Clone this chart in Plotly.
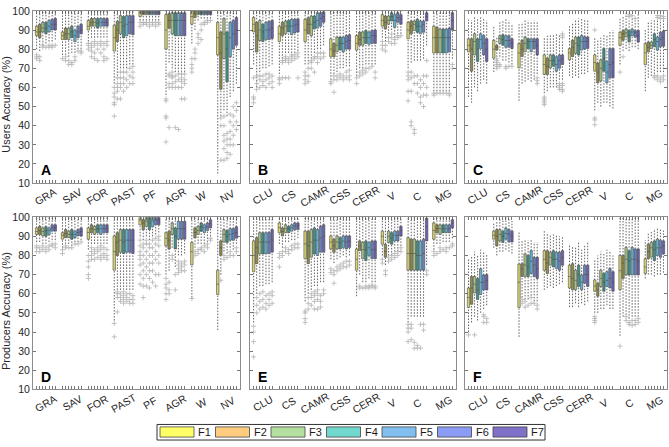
import plotly.graph_objects as go

SERIES = ['F1', 'F2', 'F3', 'F4', 'F5', 'F6', 'F7']
CATS_LC = ['GRA', 'SAV', 'FOR', 'PAST', 'PF', 'AGR', 'W', 'NV']
CATS_VEG = ['CLU', 'CS', 'CAMR', 'CSS', 'CERR', 'V', 'C', 'MG']
PANEL_LETTERS = ['A', 'B', 'C', 'D', 'E', 'F']
Y_TITLES = ['Users Accuracy (%)', 'Producers Accuracy (%)']

# ---------------- Panel A (Users accuracy, land cover) ----------------
A_lo = [[80, 79, 82, 83, 84, 84, 85], [77, 77, 76, 78, 78, 80, 80], [84, 86, 86, 86, 86, 86, 86],
        [62, 66, 70, 70, 70, 72, 72], [95, 95, 95, 95, 95, 95, 95], [56, 73, 70, 68, 68, 68, 68],
        [83, 90, 95, 96, 96, 96, 96], [15, 45, 48, 45, 55, 58, 62]]
A_q1 = [[87, 86, 89, 88, 89, 90, 90], [85, 85, 85, 86, 84, 86, 88], [90, 92, 92, 91, 92, 92, 92],
        [79, 84, 88, 86, 87, 88, 87.5], [97, 98, 98, 98, 98, 98, 98], [80, 91, 88, 87, 87, 87, 87],
        [93, 96.4, 98, 98, 98, 98, 98], [77, 59, 75, 63, 76, 80, 82]]
A_med = [[89, 89, 91, 91, 92, 93, 93], [87, 88, 88, 89, 87, 89, 90], [92, 94, 94, 93.5, 94, 94, 94],
         [86, 90, 94, 92, 93, 94, 94], [99, 99, 99, 99, 99, 99, 99], [90, 95, 95, 95, 95, 95, 95],
         [97, 98.5, 99, 99, 99, 99, 99], [86, 78, 88, 80, 86, 88, 90]]
A_q3 = [[92, 93, 94, 94, 95, 95.5, 96], [89, 91, 91, 92, 90, 92, 93], [95, 96, 96, 96, 96, 96, 96],
        [92.5, 94.5, 97.5, 97, 97.5, 97.5, 97.5], [100, 100, 100, 100, 100, 100, 100],
        [98, 98.5, 99, 99, 99, 99, 99], [100, 100, 100, 100, 100, 100, 100], [94, 89, 96, 89, 94, 95, 96.5]]
A_hi = [[100] * 7 for _ in range(8)]
A_out = [[[75, 76, 77], [74, 76], [81, 82], [81], [81, 82], [81, 82], [82]],
         [[75], [74, 76], [72, 74], [72, 73], [74, 76], [79], [78, 79]],
         [[80, 82, 83], [76, 79, 81, 83], [75, 78, 82, 84], [74, 80, 83], [78, 82, 84], [74, 76, 80, 83], [75, 82, 84]],
         [[45, 51, 52, 55, 57, 60], [54, 58, 60, 62, 65], [54, 60, 62, 65, 68], [58, 62, 65, 68],
          [60, 64, 68], [62, 66, 70], [62, 65, 68, 71]],
         [[92, 94], [93, 94], [93, 94], [92, 94], [93, 94], [92, 94], [93, 94]],
         [[31.5, 44, 45, 53, 54], [39, 60, 62, 66, 67], [60, 62, 65, 66, 68], [39, 60, 63, 66],
          [38, 60, 64, 67], [54, 60, 63, 65, 67], [54, 62, 64, 67]],
         [[68, 70, 72, 75], [75, 78, 80], [83, 86, 88], [85, 90, 93], [93, 94], [94, 95], [95]],
         [[], [22, 40, 44], [22, 28, 32, 35, 40, 45], [23, 26, 30, 33, 36], [25, 30, 33, 37, 42, 46],
          [30, 35, 40, 45, 50], [38, 42, 48, 52]]]

# ---------------- Panel B (Users accuracy, vegetation) ----------------
B_lo = [[72, 60, 68, 70, 70, 71, 72], [67, 75, 78, 78, 78, 78, 79], [72, 72, 75, 78, 80, 80, 82],
        [64, 67, 68, 70, 70, 71, 71], [66, 70, 70, 72, 72, 72, 72], [86, 84, 88, 90, 86, 88, 88],
        [70, 73, 74, 74, 74, 75, 82], [58, 58, 58, 58, 58, 58, 75]]
B_q1 = [[89, 78.5, 84.5, 84, 85, 85, 85.5], [84, 87, 88, 89, 87.5, 88.5, 89], [84, 88, 87, 90.5, 91, 92, 94],
        [76, 76, 78.6, 79.5, 78.6, 80, 80], [79.5, 82, 82, 83, 82.5, 83, 83], [92, 90.5, 93, 94.7, 91.4, 94, 93],
        [85.4, 88, 89.7, 88.8, 88, 88.8, 94.7], [78, 78, 78, 78, 78, 78.5, 90]]
B_med = [[93, 87, 90, 89, 90, 90, 91], [88, 91, 92, 92, 92, 92.5, 93], [90, 93, 93, 94, 95, 96, 97],
         [80, 79, 82, 83, 83, 84, 84.5], [83, 85, 86, 86, 86, 87, 87], [95, 94, 95, 97, 95, 96.5, 96],
         [90, 92, 93, 92, 92, 93, 97], [86, 86, 86, 86, 86, 86, 95]]
B_q3 = [[96.5, 94, 95, 93, 94, 94.5, 95], [92, 94, 94.7, 95, 95.6, 95.6, 95.8], [95.6, 96.4, 97.3, 97.3, 99, 99, 99.5],
        [85.4, 83, 86.3, 86.3, 86.3, 87.1, 87.5], [87.1, 88.8, 89, 89.7, 89, 89.7, 90], [98, 97.3, 97.3, 99, 98, 99, 98],
        [94, 94.7, 94.7, 95.6, 94.7, 94.7, 99], [92, 91.4, 90.5, 90.5, 90.5, 91, 99]]
B_hi = [[100] * 7 for _ in range(8)]
B_out = [[[52, 54, 55, 65], [59, 62, 66], [60, 64, 66], [61, 63, 66], [60, 64, 67], [62, 65, 67], [60, 63, 66]],
         [[62, 64, 65], [65, 73, 74], [65, 74, 75, 76], [65, 73, 75], [74, 76, 77], [75, 77], [65, 76, 78]],
         [[62, 64, 66, 68], [63, 66, 70], [70, 73, 74], [68, 75, 76], [73, 76, 78], [75, 78], [76, 78]],
         [[62, 63], [57.5, 64, 66], [64, 66], [65, 67], [64, 66], [65, 68], [64, 66, 69]],
         [[62, 65], [66, 68], [67, 69], [68, 70], [70], [71], [65, 68]],
         [[80, 82, 84], [79, 82], [84, 86], [83, 86, 88], [83, 85], [86, 87], [87]],
         [[53, 58, 64, 66, 68], [40, 42, 58, 65, 68], [36, 38, 62, 66], [57, 62, 66], [52, 55, 60, 64],
          [50, 56, 62, 66], [56, 60, 66, 74]],
         [[56, 57], [57], [57], [57], [57], [56, 57], [70, 72]]]

# ---------------- Panel C (Users accuracy, vegetation, second set) ----------------
C_lo = [[55, 52, 60, 58, 62, 64, 62], [68, 76, 76, 74, 74, 73, 72], [53, 62, 63, 64, 63, 64, 67],
        [57, 58, 60, 60, 60, 64, 64], [66, 65, 66, 65, 67, 67, 68], [48, 52, 50, 52, 52, 50, 49],
        [72, 79, 80, 79, 81, 81, 80], [58, 65, 66, 67, 68, 68, 68]]
C_q1 = [[78.6, 68.5, 77, 73.6, 80.3, 77, 73.6], [75.3, 79.5, 83, 82, 81, 81, 80.3], [70.2, 76.1, 78.6, 80.3, 78.6, 80.3, 77],
        [66.8, 66.8, 70.2, 71, 68.5, 70, 72], [74.4, 76.1, 77.8, 77, 79.5, 80, 80.3], [68.5, 62.5, 63.4, 68.5, 62.5, 65, 65],
        [82, 84.6, 86.3, 83.7, 87, 86.3, 83.7], [71.9, 78.6, 80.3, 81.2, 79.5, 81.2, 81.5]]
C_med = [[82, 80, 84, 80, 85, 83, 80], [80, 81, 85.5, 85, 84.5, 84.5, 83], [78, 80, 83, 84, 84, 84, 82],
         [72, 71, 74, 74, 72, 74, 75], [78, 81, 83, 82, 84, 84, 84], [73, 68, 70, 75, 68, 72, 73],
         [86, 88, 88.5, 87, 89, 88.5, 87], [78, 81, 82, 85, 84, 85, 86]]
C_q3 = [[85.4, 85.4, 88, 85.4, 88, 87.1, 85.4], [84.6, 82, 87, 87.5, 87, 87, 85.4], [82.9, 84.6, 86.3, 85.4, 85.4, 85.4, 85.4],
        [77, 75.3, 77, 77, 76, 77, 77], [80.3, 84.6, 86.3, 86.3, 87.1, 86.5, 86.3], [77, 72.7, 74.4, 80.3, 73.6, 80.3, 80.3],
        [88.8, 89.7, 90.5, 89.7, 90.5, 89.7, 89.7], [82.9, 83.7, 83.7, 88, 86.3, 88.8, 89.5]]
C_hi = [[95.5, 95, 97, 96, 97, 96, 95], [92, 86, 94, 95, 96, 95, 93], [93, 94, 95, 95, 94, 95, 94],
        [86, 87, 88, 88, 88, 88, 84], [92, 94, 95, 96, 96, 96, 95], [86, 85, 86, 88, 87, 89, 90],
        [96, 97, 99, 95, 96, 95, 99], [90, 94, 95, 95, 95, 95, 95]]
C_out = [[[], [], [], [], [], [], []],
         [[], [70, 71, 72, 73, 74, 75], [71, 72], [], [70, 71], [71], [71]],
         [[], [], [], [], [], [], [62, 63.5, 65]],
         [[51, 52, 53, 54, 55], [], [], [], [], [59, 60, 61, 62], [58, 59, 61, 62, 86, 87, 88]],
         [[], [], [], [], [], [], []],
         [[90, 44, 43, 40.5], [], [], [], [], [], []],
         [[68], [76], [], [97, 98], [97.5], [96], []],
         [[], [], [], [65, 66], [64, 66, 96.5, 97.5], [63, 65, 96, 97.5], [64, 66, 96, 97]]]

# ---------------- Panel D (Producers accuracy, land cover) ----------------
D_lo = [[87, 87, 86, 86, 87, 88, 88], [84, 86, 86, 85, 87, 87, 88], [83, 86, 86, 86, 86, 86, 86],
        [46, 62, 62, 62, 62, 62, 62], [90, 88, 90, 88, 90, 91, 92], [70, 72, 84, 74, 80, 80, 81],
        [58, 84, 86, 86, 86, 87, 90], [41, 70, 82, 81, 84, 83, 86]]
D_q1 = [[91, 91, 90.2, 90, 91, 92.7, 92.7], [88.5, 89.3, 89.3, 88.5, 89.3, 90.2, 90.2], [88.5, 91.9, 91, 91.9, 91, 91.9, 91.9],
        [72.3, 80, 81.7, 81, 81.7, 81.7, 81], [96, 93.5, 95.2, 93.5, 95, 96, 96], [85, 83.4, 91, 83.4, 88.5, 88.5, 88.5],
        [75, 89.3, 91, 92.7, 92, 93, 94.4], [59.6, 80, 87, 86.8, 88, 88, 89]]
D_med = [[92.5, 93, 92.5, 93, 93, 94.5, 94.5], [90.5, 91.5, 91, 91, 91, 92, 92.5], [92, 94, 93.5, 94, 94, 94, 94],
         [82, 87, 88, 87, 88, 88, 88], [98.5, 97, 98, 97, 98, 98.5, 98.5], [89, 88, 94, 90, 94, 94, 94],
         [82, 92, 93, 95, 94.5, 95, 96.5], [65, 84, 91, 90, 91, 91.5, 92]]
D_q3 = [[94.4, 95.2, 94.4, 95, 94.4, 96, 96], [91.9, 93.5, 92.7, 93.5, 92.7, 93.5, 94.4], [94.4, 96, 95.2, 96, 96, 96, 96],
        [90.2, 91.9, 93.5, 93.5, 93.5, 93.5, 93.5], [100, 98.6, 100, 100, 100, 100, 100],
        [91.9, 92.7, 97, 94.4, 97.8, 97.8, 97.8], [86.8, 94.4, 95.2, 96.9, 96, 96.9, 98.6], [72.3, 87.6, 93.5, 93, 94, 94, 95]]
D_hi = [[100] * 7 for _ in range(8)]
D_out = [[[82, 84, 85], [82, 84], [83, 85], [82, 84], [83, 85], [85, 86], [84, 86]],
         [[81, 83], [84, 85], [84], [84], [86], [86], [87]],
         [[68, 70, 74, 77, 80], [78, 80, 82, 84], [78, 81, 83], [79, 82, 84], [78, 80, 83, 85], [79, 81, 84], [78, 80, 83]],
         [[37.5, 44.5], [50.5, 58, 60, 61], [56, 58, 60], [55, 57, 59, 61], [56, 58, 60], [55, 57, 60], [55, 57, 59]],
         [[65, 70, 75, 78, 80, 82, 85, 88], [58, 64, 68, 72, 76, 80, 84, 86], [64, 70, 74, 78, 82, 86, 88],
          [63, 68, 72, 76, 80, 84, 86], [66, 72, 76, 80, 84, 88], [64, 70, 78, 82, 86, 89], [70, 76, 80, 85, 88, 90]],
         [[57, 60, 63, 65, 68], [60, 62, 66], [78, 80], [62, 70], [71, 73, 75, 77], [72, 74, 76], [72, 75, 77]],
         [[57.5], [80, 82], [81, 83], [83, 84], [82, 85], [84, 86], [88, 89]],
         [[], [67], [78, 80], [79], [80, 82], [80], [82, 84]]]

# ---------------- Panel E (Producers accuracy, vegetation) ----------------
E_lo = [[45, 60, 64, 64, 65, 65, 66], [86, 84, 87, 87, 88, 88, 89], [56, 60, 62, 64, 64, 66, 66],
        [78, 76, 78, 79, 80, 79, 80], [58.7, 70, 66, 66, 68, 66, 66], [80, 75, 80, 80, 82, 82, 85],
        [45, 48, 48, 48, 48, 48, 75], [83, 86, 86, 87, 87, 87, 89]]
E_q1 = [[71.5, 75.7, 80.8, 80.8, 80.8, 81, 81.7], [91.9, 90.2, 91.9, 91.9, 92.7, 93.5, 93.5],
        [78.3, 75.7, 79.1, 80.8, 80, 81.7, 81.7], [83.4, 81.7, 83.4, 83.4, 84.2, 83.4, 84.2],
        [72.3, 82.5, 78.3, 77.4, 80, 78.3, 78.3], [85.9, 79.1, 86.8, 85.9, 87.6, 87.6, 90.2],
        [72.3, 72.3, 72.3, 72.3, 72.3, 72.3, 87.6], [88.5, 91.9, 91, 91.9, 91.9, 91.9, 94.4]]
E_med = [[80, 84, 87, 87, 87, 87, 88], [94.5, 92.5, 94, 94, 94.5, 95.5, 95.5], [86, 85, 87, 88, 88, 89, 90],
         [87, 85, 87, 86.5, 87.5, 87, 87.5], [78, 85, 83, 83, 84, 83, 83], [90, 82, 90, 89, 90.5, 90.5, 93],
         [81, 81, 81, 80, 80, 81, 95], [93, 94, 94, 94, 94, 94, 97]]
E_q3 = [[87.6, 89.3, 91.9, 91.9, 91.9, 92, 93.5], [97, 94.4, 96, 95.2, 96, 97, 97], [92.7, 92.7, 93.5, 94.4, 93.5, 95.2, 96],
        [90.2, 88.5, 90.2, 89.3, 90.2, 90.2, 90.2], [83.4, 87.6, 86.8, 87.6, 86.8, 87.6, 87.6],
        [92.7, 85.9, 92.7, 91.9, 92.7, 92.7, 95.2], [89.3, 88.5, 88.5, 87.6, 87.6, 88.5, 99.5], [97, 96, 96, 96, 96, 96, 98.6]]
E_hi = [[100] * 7 for _ in range(8)]
E_out = [[[27, 35, 40, 43], [50, 54, 58], [52, 56, 60], [53, 57, 61], [52, 55, 59], [54, 57, 60], [55, 59, 61]],
         [[74, 79, 81], [80, 82], [82, 84], [81, 83], [83, 85], [84, 86], [84, 86]],
         [[45, 47, 50, 51], [52, 55, 58], [54, 58, 60], [52, 56, 59, 61], [52, 57, 60, 62], [53, 56, 59], [60, 62]],
         [[71, 73], [65.5, 70, 72], [72, 74], [73, 75], [74, 76], [74, 77], [75, 77]],
         [[], [63, 64], [63], [63, 64], [63, 64], [63.5, 64.5], [63, 64]],
         [[76, 78], [70, 72], [77, 79], [78, 80], [79, 81], [80, 82], [82, 84]],
         [[35, 40, 42, 44], [36, 42, 44], [31.5, 34.6], [31.6, 33], [31.6, 44], [41, 44], [70, 72]],
         [[80, 82], [81], [82, 84], [83], [82, 84], [84], [85, 86]]]

# ---------------- Panel F (Producers accuracy, vegetation, second set) ----------------
F_lo = [[40, 45, 48, 46, 50, 52, 54], [84, 80, 82, 82, 83, 82, 81], [37.5, 58, 57, 57, 59, 56, 56],
        [62, 63, 64, 63, 64, 65, 66], [53, 53, 55, 53, 55, 54, 56], [50, 50, 52, 52, 54, 52, 52],
        [38, 48, 49, 47, 48, 48, 48], [68, 70, 70, 69, 70, 70, 71]]
F_q1 = [[52.8, 54.5, 60.4, 57, 59.6, 62, 62], [88.5, 85, 87.6, 86.8, 88.5, 87, 87], [52.8, 69, 69, 69, 70.6, 69, 68],
        [72.3, 70.6, 74.9, 74, 73.2, 72.3, 74.9], [63, 62.1, 62.1, 63.8, 62.1, 65.5, 63.8],
        [61.3, 58.7, 63.8, 61.3, 63.8, 63, 61.3], [62.1, 68, 69.8, 69.8, 69.8, 69.8, 69.8], [70.6, 78.3, 79.1, 77.4, 80, 79, 80.8]]
F_med = [[58, 63, 65, 62, 66, 66, 67], [90.5, 90, 91, 90, 91.5, 91, 90], [66, 73, 75, 74, 77, 75, 73],
         [78, 76, 79, 78, 78, 77, 79], [69, 68, 67, 70, 66, 70, 70], [64, 62, 68, 66, 67, 68, 66],
         [72, 76, 78, 77, 78, 78, 77], [74, 82, 84, 83, 84, 84, 85]]
F_q3 = [[63, 69, 69, 68, 73, 69.8, 70], [92.7, 93.5, 93.5, 92.7, 94.4, 93.5, 92.7], [75.5, 75.7, 80.8, 80, 82.5, 79, 79],
        [82.5, 82.5, 81.7, 82.5, 81.7, 81.7, 82.5], [74.9, 75.7, 72.3, 74.9, 69.8, 74.9, 74.9],
        [67.2, 65.5, 72.3, 70.6, 71.5, 73.2, 71.5], [80, 80, 84.2, 82.5, 84.2, 83.4, 83.4], [78.3, 85.9, 86.8, 87.6, 88.5, 88, 87.6]]
F_hi = [[78, 80, 82, 80, 83, 82, 81], [97, 98, 99, 99, 100, 99, 98], [92, 88, 88, 88, 88, 87, 87],
        [93, 92, 91, 91, 91, 90, 90], [86, 85, 84, 87, 83, 85, 87], [78, 80, 82, 81, 83, 82, 80],
        [100, 100, 100, 100, 100, 100, 100], [88, 92, 93, 94, 94, 94, 93]]
F_out = [[[38.5], [], [38.5], [], [], [45, 48, 49], [45, 47]],
         [[], [], [], [], [], [], []],
         [[], [55, 57], [53, 56], [54], [55, 58], [55], [52, 54]],
         [[], [], [], [], [], [], []],
         [[], [], [], [], [], [], []],
         [[45, 46, 47, 48], [], [], [], [], [], []],
         [[32.6], [], [46, 48], [44, 45], [43.5, 46], [44, 46], [45, 47]],
         [[], [], [], [], [], [], []]]

# ---------------- Styling ----------------
BOX_COLORS = ['#d9d46e', '#8e8b4c', '#a7c487', '#3f8f86', '#62b3d6', '#6583c4', '#6b61ae']
LEGEND_COLORS = ['#ffff66', '#ffcc80', '#b3e0a0', '#70d8cc', '#80bff0', '#8a9cf5', '#7f70c8']
EDGE = '#4a4a4a'
FONT = 'Liberation Sans, Arial, sans-serif'
W, H = 669, 447
XDOM_PX = [(33, 240), (250, 456), (465, 667)]
YDOM_PX = [(5, 182), (217, 394)]
PITCH = 0.12
BOXW = 0.095

panels = [
    (CATS_LC, A_lo, A_q1, A_med, A_q3, A_hi, A_out),
    (CATS_VEG, B_lo, B_q1, B_med, B_q3, B_hi, B_out),
    (CATS_VEG, C_lo, C_q1, C_med, C_q3, C_hi, C_out),
    (CATS_LC, D_lo, D_q1, D_med, D_q3, D_hi, D_out),
    (CATS_VEG, E_lo, E_q1, E_med, E_q3, E_hi, E_out),
    (CATS_VEG, F_lo, F_q1, F_med, F_q3, F_hi, F_out),
]

fig = go.Figure()
layout = dict(width=W, height=H, margin=dict(l=0, r=0, t=0, b=0), paper_bgcolor='white',
              plot_bgcolor='white', showlegend=False, boxmode='overlay', font=dict(family=FONT))
annotations = []
shapes = []

for k, (cats, lo, q1, med, q3, hi, out) in enumerate(panels):
    r, c = divmod(k, 3)
    sfx = '' if k == 0 else str(k + 1)
    xa, ya = 'x' + sfx, 'y' + sfx
    x0, x1 = XDOM_PX[c]
    y0, y1 = YDOM_PX[r]
    xdom = [x0 / W, x1 / W]
    ydom = [1 - y1 / H, 1 - y0 / H]
    n = len(cats)
    pos = [[i + 1 + (j - 3) * PITCH for j in range(7)] for i in range(n)]

    # dotted whiskers
    wx, wy = [], []
    for i in range(n):
        for j in range(7):
            p = pos[i][j]
            if lo[i][j] < q1[i][j]:
                wx += [p, p, None]
                wy += [lo[i][j], q1[i][j], None]
            if hi[i][j] > q3[i][j]:
                wx += [p, p, None]
                wy += [q3[i][j], hi[i][j], None]
    fig.add_trace(go.Scatter(x=wx, y=wy, mode='lines', xaxis=xa, yaxis=ya, hoverinfo='skip',
                             line=dict(color='#3a3a3a', width=0.8, dash='1.5px,1.5px')))

    # outliers
    ox, oy = [], []
    for i in range(n):
        for j in range(7):
            for v in out[i][j]:
                ox.append(pos[i][j])
                oy.append(v)
    fig.add_trace(go.Scatter(x=ox, y=oy, mode='markers', xaxis=xa, yaxis=ya, hoverinfo='skip',
                             marker=dict(symbol='cross-thin', size=3.6, color='#b4b4b4',
                                         line=dict(color='#b4b4b4', width=0.8))))

    # boxes
    for j in range(7):
        fig.add_trace(go.Box(
            x=[pos[i][j] for i in range(n)],
            q1=[q1[i][j] for i in range(n)],
            median=[med[i][j] for i in range(n)],
            q3=[q3[i][j] for i in range(n)],
            lowerfence=[q1[i][j] for i in range(n)],
            upperfence=[q3[i][j] for i in range(n)],
            width=BOXW, whiskerwidth=0, fillcolor=BOX_COLORS[j],
            line=dict(color=EDGE, width=0.6), name=SERIES[j],
            xaxis=xa, yaxis=ya, hoverinfo='skip', showlegend=False))

    tickv = [p for row in pos for p in row]
    layout['xaxis' + sfx] = dict(domain=xdom, anchor=ya, range=[0.5, n + 0.5], tickvals=tickv,
                                 showticklabels=False, ticks='inside', ticklen=3, tickwidth=0.8,
                                 tickcolor='#555555', mirror='allticks', showline=True,
                                 linecolor='#8c8c8c', linewidth=1, showgrid=False, zeroline=False)
    layout['yaxis' + sfx] = dict(domain=ydom, anchor=xa, range=[10, 100], tick0=10, dtick=10,
                                 ticks='inside', ticklen=3, tickwidth=0.8, tickcolor='#555555',
                                 mirror='ticks', showline=True, linecolor='#8c8c8c', linewidth=1,
                                 showgrid=False, zeroline=False, showticklabels=(c == 0),
                                 tickfont=dict(size=10.5, color='#262626', family=FONT))

    # category labels
    for i, cat in enumerate(cats):
        annotations.append(dict(x=i + 1, xref=xa, y=1 - (y1 + 13.5) / H, yref='paper', text=cat,
                                showarrow=False, textangle=-30, xanchor='center', yanchor='middle',
                                font=dict(size=10.5, color='#262626', family=FONT)))
    # panel letter
    annotations.append(dict(x=(x0 + 6) / W, y=1 - (y1 - 3) / H, xref='paper', yref='paper',
                            text='<b>%s</b>' % PANEL_LETTERS[k], showarrow=False,
                            xanchor='left', yanchor='bottom', font=dict(size=14, color='black', family=FONT)))

# y-axis titles
for r, title in enumerate(Y_TITLES):
    y0, y1 = YDOM_PX[r]
    annotations.append(dict(x=6 / W, y=1 - ((y0 + y1) / 2 + 8) / H, xref='paper', yref='paper', text=title,
                            textangle=-90, showarrow=False, xanchor='center', yanchor='middle',
                            font=dict(size=11, color='#262626', family=FONT)))

# legend (drawn manually to mimic wide colour patches)
LX0, LX1, LY0, LY1 = 157, 545, 430, 446
shapes.append(dict(type='rect', xref='paper', yref='paper', x0=LX0 / W, x1=LX1 / W,
                   y0=1 - LY1 / H, y1=1 - LY0 / H, line=dict(color='#333333', width=1),
                   fillcolor='white'))
for j, name in enumerate(SERIES):
    px0 = 160 + j * 55.5
    shapes.append(dict(type='rect', xref='paper', yref='paper', x0=px0 / W, x1=(px0 + 34) / W,
                       y0=1 - 443 / H, y1=1 - 432.5 / H, line=dict(color='#444444', width=0.8),
                       fillcolor=LEGEND_COLORS[j]))
    annotations.append(dict(x=(px0 + 36) / W, y=1 - 438 / H, xref='paper', yref='paper', text=name,
                            showarrow=False, xanchor='left', yanchor='middle',
                            font=dict(size=11, color='#1a1a1a', family=FONT)))

layout['annotations'] = annotations
layout['shapes'] = shapes
fig.update_layout(**layout)

fig.write_html("out.html", config={'displayModeBar': False, 'staticPlot': True},
               post_script="document.body.style.margin='0';document.body.style.padding='0';")
